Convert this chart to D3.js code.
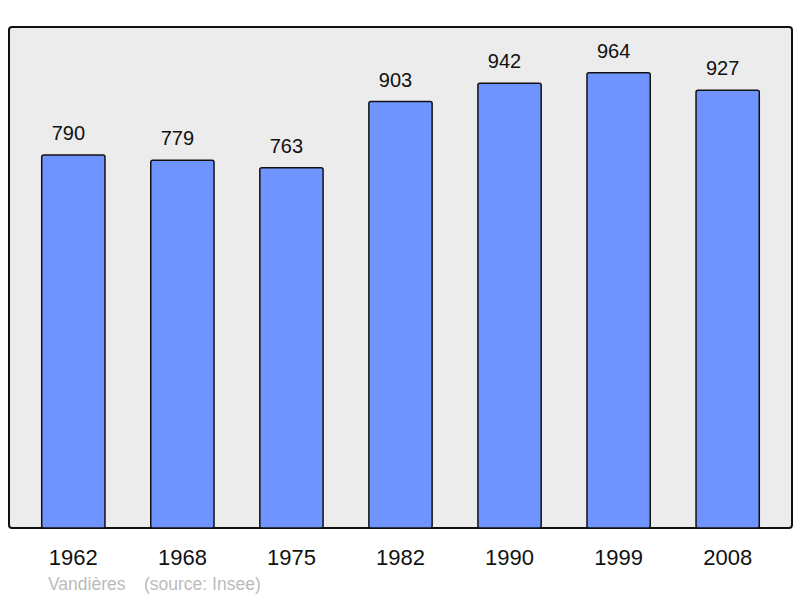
<!DOCTYPE html>
<html>
<head>
<meta charset="utf-8">
<script src="https://cdn.jsdelivr.net/npm/d3@7"></script>
<style>
  body { margin: 0; background: white; }
  text { font-family: "Liberation Sans", Arial, sans-serif; }
</style>
</head>
<body>
<div id="chart"></div>
<script>
const years = ['1962', '1968', '1975', '1982', '1990', '1999', '2008'];
const population = [790, 779, 763, 903, 942, 964, 927];
const footerLabels = ['Vandières', '(source: Insee)'];

const W = 800, H = 598;
const FRAME = { LEFT: 9, TOP: 27, RIGHT: 792, BOTTOM: 528 };

const svg = d3.select('#chart').append('svg')
  .attr('width', W).attr('height', H);

// cadre gris
svg.append('rect')
  .attr('x', FRAME.LEFT).attr('y', FRAME.TOP)
  .attr('width', FRAME.RIGHT - FRAME.LEFT)
  .attr('height', FRAME.BOTTOM - FRAME.TOP)
  .attr('rx', 3)
  .attr('fill', '#ececec')
  .attr('stroke', '#111')
  .attr('stroke-width', 2);

const x = d3.scaleBand().domain(years)
  .range([FRAME.LEFT, FRAME.RIGHT])
  .paddingInner(0.42).paddingOuter(0.3);

const y = d3.scaleLinear().domain([0, 1061])
  .range([FRAME.BOTTOM, FRAME.TOP]);

const data = years.map((yr, i) => ({ year: yr, value: population[i] }));

svg.selectAll('rect.bar').data(data).enter().append('rect')
  .attr('class', 'bar')
  .attr('x', d => x(d.year))
  .attr('y', d => y(d.value))
  .attr('width', x.bandwidth())
  .attr('height', d => FRAME.BOTTOM - y(d.value))
  .attr('rx', 2)
  .attr('fill', '#7094ff')
  .attr('stroke', '#111')
  .attr('stroke-width', 1.5);

// valeurs au-dessus des barres (un peu décalées à gauche comme l'original)
svg.selectAll('text.val').data(data).enter().append('text')
  .attr('class', 'val')
  .attr('x', d => x(d.year) + x.bandwidth() / 2 - 5)
  .attr('y', d => y(d.value) - 15)
  .attr('text-anchor', 'middle')
  .attr('font-size', 20)
  .attr('fill', '#111')
  .text(d => d.value);

// axe X (sans ligne)
const xAxis = svg.append('g')
  .attr('transform', `translate(0, ${FRAME.BOTTOM})`)
  .call(d3.axisBottom(x).tickSize(0));
xAxis.select('.domain').remove();
xAxis.selectAll('text')
  .attr('y', 37)
  .attr('dy', 0)
  .attr('font-size', 22)
  .attr('font-family', '"Liberation Sans", Arial, sans-serif')
  .attr('fill', '#111');

svg.append('text')
  .attr('x', 48).attr('y', 590)
  .attr('font-size', 17.5).attr('fill', '#bbb')
  .text(footerLabels[0]);
svg.append('text')
  .attr('x', 144).attr('y', 590)
  .attr('font-size', 17.5).attr('fill', '#bbb')
  .text(footerLabels[1]);
</script>
</body>
</html>
